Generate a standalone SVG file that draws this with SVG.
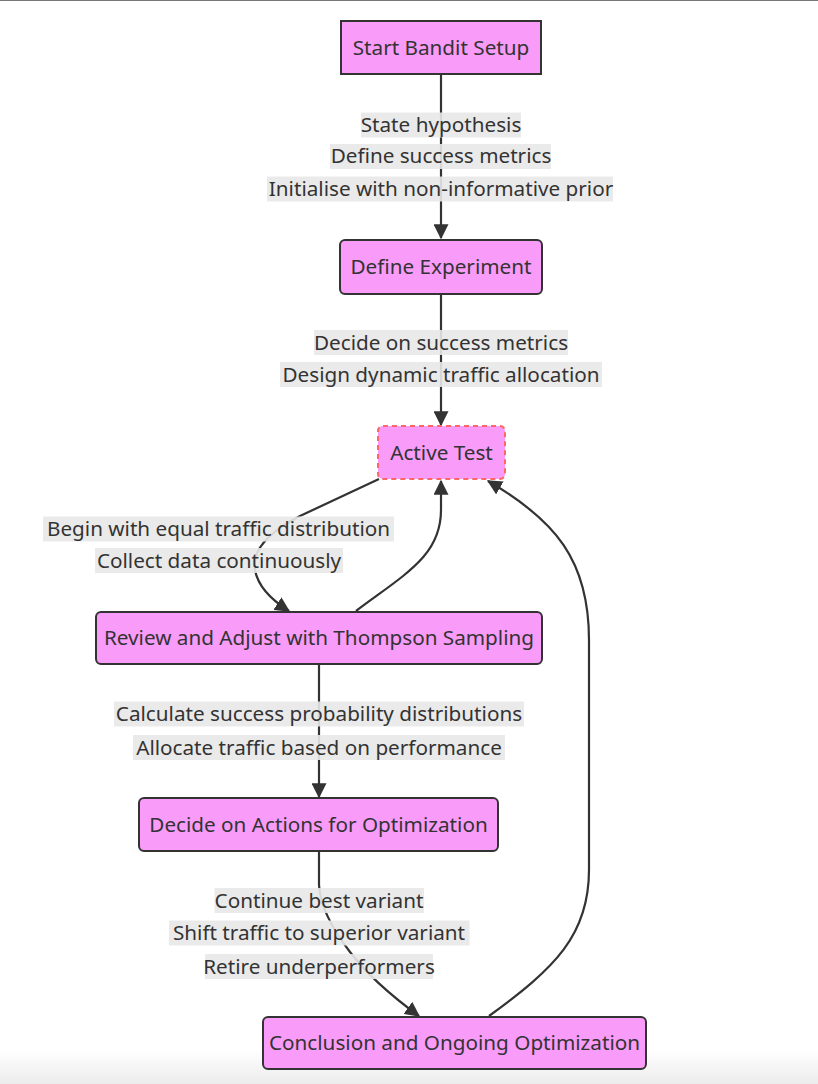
<svg xmlns="http://www.w3.org/2000/svg" width="818" height="1084" viewBox="0 0 818 1084">
<defs>
<style>
text{font-family:"Noto Sans","Open Sans","DejaVu Sans",sans-serif;font-size:20.7px;fill:#333;text-anchor:middle}
.node rect{fill:#f99bf9;stroke:#333;stroke-width:2}
.node.active rect{stroke:#f66;stroke-dasharray:5 4}
.edge{fill:none;stroke:#333;stroke-width:2.2}
.lbl rect{fill:#e8e8e8;opacity:0.9}
</style>
<marker id="arr" viewBox="0 0 12 12" refX="11" refY="6" markerWidth="15" markerHeight="15" markerUnits="userSpaceOnUse" orient="auto">
<path d="M0,0 L12,6 L0,12 Z" fill="#333"/>
</marker>
<linearGradient id="bot" x1="0" y1="0" x2="0" y2="1">
<stop offset="0" stop-color="#fff"/>
<stop offset="1" stop-color="#ececec"/>
</linearGradient>
</defs>
<rect x="0" y="0" width="818" height="1084" fill="#fff"/>
<rect x="0" y="1050" width="818" height="34" fill="url(#bot)"/>
<line x1="0" y1="0.5" x2="818" y2="0.5" stroke="#777" stroke-width="1"/>

<g id="connectors">
<path class="edge" d="M441,74 L441,238" marker-end="url(#arr)"/>
<path class="edge" d="M441,294 L441,425" marker-end="url(#arr)"/>
<path class="edge" d="M379,479 L300,516 Q250,542 255,570 Q259,592 289,611" marker-end="url(#arr)"/>
<path class="edge" d="M356,611 C405,574 441,556 441,510 L441,481" marker-end="url(#arr)"/>
<path class="edge" d="M489,1016 C555,968 589,935 589,870 L589,640 C589,560 555,520 488,481" marker-end="url(#arr)"/>
<path class="edge" d="M319,664 L319,797" marker-end="url(#arr)"/>
<path class="edge" d="M319,852 L319,885 C320,905 330,926 350,952 C366,973 386,992 419,1016" marker-end="url(#arr)"/>
</g>

<g id="edge-labels">
<g class="lbl">
<rect x="361" y="112.5" width="160" height="25"/>
<rect x="330" y="144" width="221" height="25"/>
<rect x="267" y="176.5" width="346" height="25"/>
<text x="441" y="131.5">State hypothesis</text>
<text x="441" y="163">Define success metrics</text>
<text x="441" y="196">Initialise with non-informative prior</text>
</g>
<g class="lbl">
<rect x="314" y="330" width="254" height="25"/>
<rect x="280" y="362" width="322" height="25"/>
<text x="441" y="349.5">Decide on success metrics</text>
<text x="441" y="381.5">Design dynamic traffic allocation</text>
</g>
<g class="lbl">
<rect x="43" y="516.5" width="351" height="25"/>
<rect x="95" y="548" width="248" height="25"/>
<text x="218.5" y="536">Begin with equal traffic distribution</text>
<text x="219" y="567.5">Collect data continuously</text>
</g>
<g class="lbl">
<rect x="114" y="701.5" width="410" height="25"/>
<rect x="133" y="735" width="372" height="25"/>
<text x="319" y="721">Calculate success probability distributions</text>
<text x="319" y="754.5">Allocate traffic based on performance</text>
</g>
<g class="lbl">
<rect x="214.5" y="888" width="209.5" height="25"/>
<rect x="169" y="920.5" width="300.5" height="25"/>
<rect x="205" y="954" width="228" height="25"/>
<text x="319" y="907.5">Continue best variant</text>
<text x="319" y="940">Shift traffic to superior variant</text>
<text x="319" y="973.5">Retire underperformers</text>
</g>
</g>

<g id="start" class="node">
<rect x="341" y="21" width="200" height="53"/>
<text x="441" y="54.5">Start Bandit Setup</text>
</g>
<g id="define" class="node">
<rect x="340" y="240" width="202" height="54" rx="5"/>
<text x="441" y="274">Define Experiment</text>
</g>
<g id="active" class="node active">
<rect x="378" y="426" width="127" height="53" rx="5"/>
<text x="441.5" y="459.5">Active Test</text>
</g>
<g id="review" class="node">
<rect x="96" y="612" width="446" height="52" rx="5"/>
<text x="319" y="645">Review and Adjust with Thompson Sampling</text>
</g>
<g id="decide" class="node">
<rect x="139" y="798" width="359" height="53" rx="5"/>
<text x="318.5" y="831.5">Decide on Actions for Optimization</text>
</g>
<g id="conclusion" class="node">
<rect x="263" y="1017" width="383" height="52" rx="5"/>
<text x="454.5" y="1050">Conclusion and Ongoing Optimization</text>
</g>
</svg>
